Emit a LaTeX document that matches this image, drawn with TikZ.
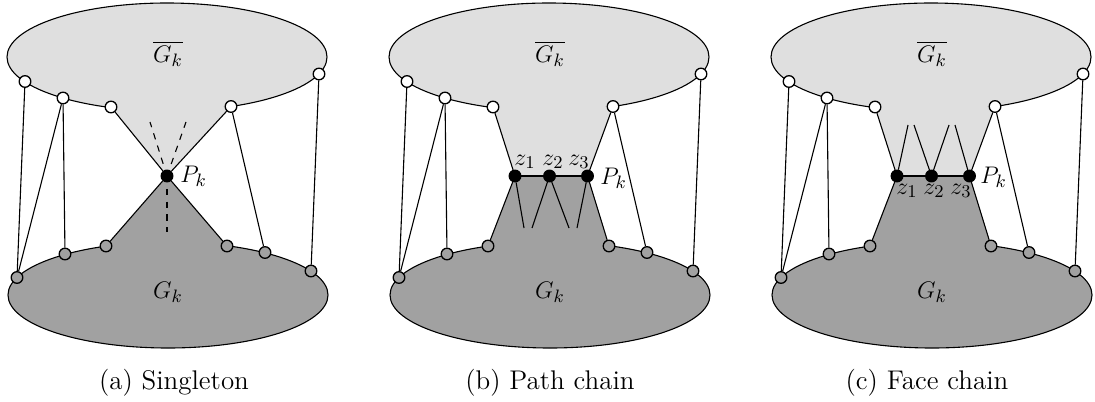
\documentclass[tikz,border=0pt]{standalone}
\usetikzlibrary{calc}
\definecolor{lg}{gray}{0.875}
\definecolor{dg}{gray}{0.63}
\tikzset{
  vtx/.style={circle,draw,line width=0.65pt,inner sep=0pt,minimum size=5.8pt},
  wnode/.style={vtx,fill=white},
  gnode/.style={vtx,fill=dg},
  bnode/.style={vtx,fill=black},
  conn/.style={line width=0.55pt},
  outline/.style={line width=0.55pt},
  dsh/.style={conn,dash pattern=on 3.2pt off 3.2pt},
  lbl/.style={inner sep=0pt,font=\fontsize{12.5}{14}\selectfont},
  captxt/.style={inner sep=0pt,font=\fontsize{13.5}{16}\selectfont},
}
\begin{document}
\begin{tikzpicture}[x=0.5pt,y=-0.5pt]
\useasboundingbox (0,0) rectangle (1095,401);
\foreach \p/\s in {a/0,b/382,c/764}{
  \begin{scope}[shift={(\s,0)}]
    % ellipses
    \draw[outline,fill=lg] (167,57) ellipse [x radius=160,y radius=54];
    \draw[outline,fill=dg] (168,295) ellipse [x radius=160,y radius=53];
    % vertex positions on the ellipses
    \coordinate (\p t1) at (25,81.5);
    \coordinate (\p t2) at (63,98);
    \coordinate (\p t3) at (111,107);
    \coordinate (\p t4) at (231,106.5);
    \coordinate (\p t5) at (319,74);
    \coordinate (\p b1) at (17,277.5);
    \coordinate (\p b2) at (65,254);
    \coordinate (\p b3) at (106,246);
    \coordinate (\p b4) at (227,246);
    \coordinate (\p b5) at (265,252.5);
    \coordinate (\p b6) at (311,271);
  \end{scope}
}
% ---------- (a) ----------
\coordinate (aP) at (167,176);
\fill[lg] (at3) -- (aP) -- (at4) -- cycle;
\fill[dg] (ab3) -- (aP) -- (ab4) -- cycle;
\coordinate (ad1) at (150,122);
\coordinate (ad2) at (186,122);
\coordinate (ad3) at (167,232);
\draw[dsh] (aP) -- (ad1);
\draw[dsh] (aP) -- (ad2);
\draw[dsh] (aP) -- (ad3);
% ---------- (b) ----------
\coordinate (bz1) at (515,176);
\coordinate (bz2) at (549.5,176);
\coordinate (bz3) at (587.5,176);
\fill[lg] (bt3) -- (bz1) -- (bz3) -- (bt4) -- cycle;
\fill[dg] (bb3) -- (bz1) -- (bz3) -- (bb4) -- cycle;
\coordinate (be1) at (524,228);
\coordinate (be2) at (532,228);
\coordinate (be3) at (569,228);
\coordinate (be4) at (577,228);
% ---------- (c) ----------
\coordinate (cz1) at (897,176);
\coordinate (cz2) at (931.5,176);
\coordinate (cz3) at (969.5,176);
\fill[lg] (ct3) -- (cz1) -- (cz3) -- (ct4) -- cycle;
\fill[dg] (cb3) -- (cz1) -- (cz3) -- (cb4) -- cycle;
\coordinate (ce1) at (908,125);
\coordinate (ce2) at (914,125);
\coordinate (ce3) at (949,125);
\coordinate (ce4) at (955,125);

% nodes
\foreach \p in {a,b,c}{
  \foreach \i in {1,...,5} \node[wnode] (\p T\i) at (\p t\i) {};
  \foreach \i in {1,...,6} \node[gnode] (\p B\i) at (\p b\i) {};
}
\node[bnode] (aPk) at (aP) {};
\foreach \p in {b,c}{
  \foreach \i in {1,2,3} \node[bnode] (\p Z\i) at (\p z\i) {};
}

% side edges
\foreach \p in {a,b,c}{
  \draw[conn] (\p T1) -- (\p B1);
  \draw[conn] (\p T2) -- (\p B1);
  \draw[conn] (\p T2) -- (\p B2);
  \draw[conn] (\p T4) -- (\p B5);
  \draw[conn] (\p T5) -- (\p B6);
}
% cone edges
\draw[conn] (aT3) -- (aPk) -- (aT4);
\draw[conn] (aB3) -- (aPk) -- (aB4);
\foreach \p in {b,c}{
  \draw[conn] (\p T3) -- (\p Z1);
  \draw[conn] (\p T4) -- (\p Z3);
  \draw[conn] (\p B3) -- (\p Z1);
  \draw[conn] (\p B4) -- (\p Z3);
  \draw[conn] (\p Z1) -- (\p Z2) -- (\p Z3);
  \draw[conn] (\p Z1) -- (\p e1);
  \draw[conn] (\p Z2) -- (\p e2);
  \draw[conn] (\p Z2) -- (\p e3);
  \draw[conn] (\p Z3) -- (\p e4);
}

% labels
\foreach \p/\s in {a/0,b/382,c/764}{
  \node[lbl] (\p Gbar) at (168+\s,54) {$\overline{G_k}$};
  \node[lbl] (\p G) at (168+\s,292) {$G_k$};
}
\node[lbl,anchor=west] (aPl) at (180,176) {$P_k$};
\node[lbl,anchor=west] (bPl) at (600,178) {$P_k$};
\node[lbl,anchor=west] (cPl) at (980,177) {$P_k$};
\node[lbl] (bl1) at (525,162) {$z_1$};
\node[lbl] (bl2) at (553,162) {$z_2$};
\node[lbl] (bl3) at (579,162) {$z_3$};
\node[lbl] (cl1) at (907,191) {$z_1$};
\node[lbl] (cl2) at (934,191) {$z_2$};
\node[lbl] (cl3) at (961,191) {$z_3$};

% captions
\node[captxt] (capa) at (174,383) {(a) Singleton};
\node[captxt] (capb) at (550,383) {(b) Path chain};
\node[captxt] (capc) at (927,383) {(c) Face chain};
\end{tikzpicture}
\end{document}
